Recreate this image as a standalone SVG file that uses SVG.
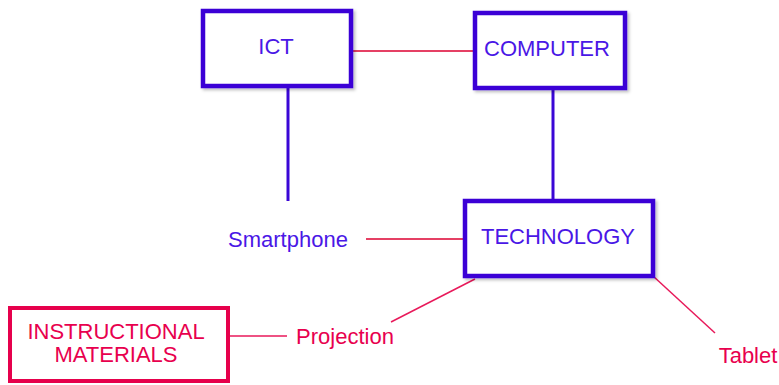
<svg xmlns="http://www.w3.org/2000/svg" width="779" height="385" viewBox="0 0 779 385">
<defs>
<filter id="sh" x="-10%" y="-10%" width="130%" height="130%">
<feDropShadow dx="2" dy="2" stdDeviation="1.5" flood-color="#000" flood-opacity="0.25"/>
</filter>
</defs>
<style>
.bbox{fill:#fff;stroke:#3a06d6;stroke-width:4.5;filter:url(#sh)}
.rbox{fill:#fff;stroke:#e6004c;stroke-width:4}
.bt{fill:#4a17e6;font-family:"Liberation Sans",Arial,sans-serif;font-size:22px;text-anchor:middle}
.rt{fill:#e8004e;font-family:"Liberation Sans",Arial,sans-serif;font-size:22px;text-anchor:middle}
.bl{stroke:#3a06d6;stroke-width:3;fill:none}
.rl{stroke:#dd0030;stroke-width:1.5;fill:none}
.pl{stroke:#e8195a;stroke-width:1.5;fill:none}
</style>
<rect width="779" height="385" fill="#fff"/>
<g id="connectors">
<line class="rl" x1="353" y1="51" x2="473" y2="51"/>
<line class="bl" x1="288" y1="88" x2="288" y2="201"/>
<line class="bl" x1="553" y1="90" x2="553" y2="199"/>
<line class="rl" x1="366" y1="239" x2="463" y2="239"/>
<line class="pl" x1="391" y1="322" x2="475" y2="279"/>
<line class="pl" x1="653" y1="276" x2="715" y2="333"/>
<line class="pl" x1="230" y1="336" x2="287" y2="336"/>
</g>
<g id="ict">
<rect class="bbox" x="203" y="11" width="148" height="75"/>
<text class="bt" x="276" y="54">ICT</text>
</g>
<g id="computer">
<rect class="bbox" x="475" y="13" width="150" height="75"/>
<text class="bt" x="547" y="56" font-size="22.5">COMPUTER</text>
</g>
<g id="technology">
<rect class="bbox" x="465" y="201" width="188" height="75"/>
<text class="bt" x="558" y="244" font-size="22.5">TECHNOLOGY</text>
</g>
<g id="smartphone">
<text class="bt" x="288" y="247">Smartphone</text>
</g>
<g id="instructional">
<rect class="rbox" x="10" y="308" width="218" height="73"/>
<text class="rt" x="116" y="339">INSTRUCTIONAL</text>
<text class="rt" x="116" y="362">MATERIALS</text>
</g>
<g id="projection">
<text class="rt" x="345" y="344">Projection</text>
</g>
<g id="tablet">
<text class="rt" x="748" y="363">Tablet</text>
</g>
</svg>
